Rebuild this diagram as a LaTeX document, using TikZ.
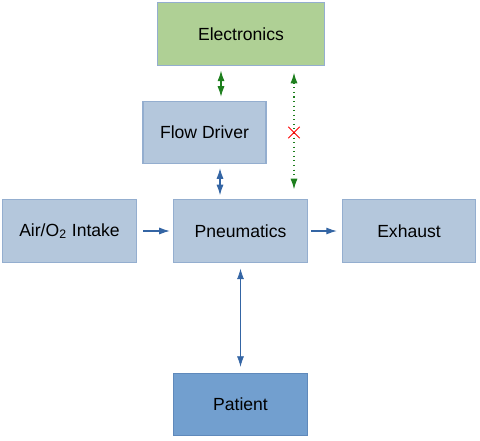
\documentclass[tikz,border=0pt]{standalone}
\usepackage{fontspec}
\setmainfont{Liberation Sans}
\usetikzlibrary{arrows.meta,shapes.misc}
\definecolor{boxfill}{HTML}{B4C7DC}
\definecolor{boxline}{HTML}{94AECF}
\definecolor{elecfill}{HTML}{AFD095}
\definecolor{patfill}{HTML}{729FCF}
\definecolor{patline}{HTML}{5F89BB}
\definecolor{arrowblue}{HTML}{3465A4}
\definecolor{arrowgreen}{HTML}{1E7F1E}

\begin{document}
\begin{tikzpicture}[x=0.02cm, y=-0.02cm,
  textbox/.style={font=\fontsize{10}{12}\selectfont, draw=boxline, fill=boxfill, line width=0.6pt, inner sep=0, align=center, minimum height=35.5pt},
  bluearrow/.style={draw=arrowblue, line width=0.6pt, -{Latex[length=6pt,width=4pt]}},
  greenarrow/.style={draw=arrowgreen, line width=0.6pt, {Latex[length=6pt,width=4pt]}-{Latex[length=6pt,width=4pt]}},
  crossmark/.style={cross out, solid, -, shorten <=0pt, shorten >=0pt, draw=red, line width=0.5pt, minimum size=6pt, inner sep=0}]
\useasboundingbox (0,0) rectangle (480,440);
%boxes
\node[textbox, fill=elecfill, minimum width=95pt] (elec) at (241,34) {Electronics};
\node[textbox, minimum width=70pt] (fd) at (204.5,132.5) {Flow Driver};
\node[textbox, minimum width=76.5pt] (intake) at (69.5,231) {Air/O\textsubscript{2} Intake};
\node[textbox, minimum width=76.5pt] (pneu) at (240.5,231) {Pneumatics};
\node[textbox, minimum width=76pt] (exh) at (409,231) {Exhaust};
\node[textbox, fill=patfill, draw=patline, minimum width=76.5pt] (pat) at (240.5,404.5) {Patient};
%arrow ends
\coordinate (fdtop) at ([shift={(16.5,0)}]fd.north);
\coordinate (fdbot) at ([shift={(15.5,0)}]fd.south);
\coordinate (eleclink) at ([shift={(53,0)}]elec.south);
%arrows
\draw [greenarrow, shorten <=2.8pt, shorten >=2.3pt] (fdtop |- elec.south) -- (fdtop);
\draw [greenarrow, dotted, shorten <=4pt, shorten >=5.7pt] (eleclink) -- (eleclink |- pneu.north) node[crossmark, pos=0.5] (nolink) {};
\draw [bluearrow, {Latex[length=6pt,width=4pt]}-{Latex[length=6pt,width=4pt]}, shorten <=2.3pt, shorten >=2.3pt] (fdbot) -- (fdbot |- pneu.north);
\draw [bluearrow, shorten <=3.4pt, shorten >=1.7pt] (intake) -- (pneu);
\draw [bluearrow, shorten <=1.7pt, shorten >=2.8pt] (pneu) -- (exh);
\draw [bluearrow, {Latex[length=6pt,width=4pt]}-{Latex[length=6pt,width=4pt]}, line width=0.4pt, shorten <=3.4pt, shorten >=3.4pt] (pneu) -- (pat);
\end{tikzpicture}
\end{document}
